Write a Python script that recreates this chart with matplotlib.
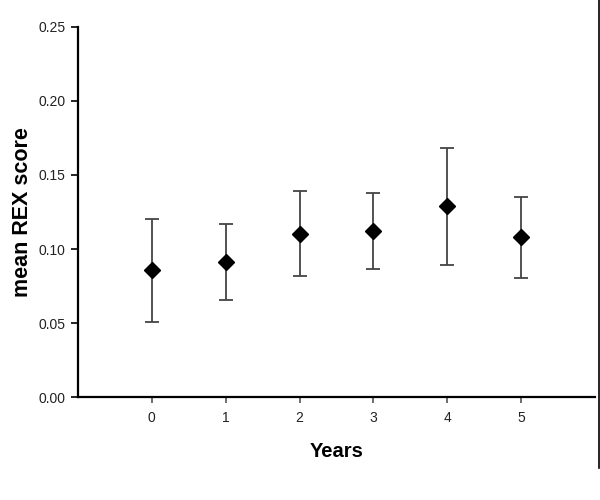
import matplotlib
matplotlib.use("Agg")
import matplotlib.pyplot as plt
from matplotlib.lines import Line2D

years = [0, 1, 2, 3, 4, 5]
mean_rex = [0.0858, 0.0914, 0.110, 0.1125, 0.1289, 0.1078]
upper = [0.1206, 0.117, 0.1395, 0.1379, 0.1685, 0.1352]
lower = [0.0510, 0.0654, 0.0815, 0.0867, 0.0894, 0.0802]
yticks = [0.00, 0.05, 0.10, 0.15, 0.20, 0.25]

plt.rcParams['font.family'] = ['Liberation Sans', 'DejaVu Sans']

fig = plt.figure(figsize=(6, 5), dpi=100)
ax = fig.add_axes([0.13, 0.2054, 0.8617, 0.7412])

yerr = [[m - l for m, l in zip(mean_rex, lower)], [u - m for m, u in zip(mean_rex, upper)]]
ax.errorbar(years, mean_rex, yerr=yerr, fmt='D', color='black', markersize=8,
            ecolor='#444444', elinewidth=1.3, capsize=5, capthick=1.3)

ax.set_xlim(-1, 6)
ax.set_ylim(0, 0.25)
ax.set_xticks(years)
ax.set_xticklabels([str(y) for y in years])
ax.set_yticks(yticks)
ax.set_yticklabels([f"{v:.2f}" for v in yticks])
for s in ['top', 'right']:
    ax.spines[s].set_visible(False)
for s in ['left', 'bottom']:
    ax.spines[s].set_linewidth(1.6)
ax.tick_params(axis='y', length=5, width=1.2, labelsize=10, colors='black', labelcolor='#222222', pad=4)
ax.tick_params(axis='x', length=4, width=1.2, labelsize=10, colors='#555555', labelcolor='#222222', pad=6)

ax.set_xlabel('Years', fontsize=14.5, fontweight='bold', labelpad=12)
ax.set_ylabel('mean REX score', fontsize=15.5, fontweight='bold', labelpad=4)

fig.add_artist(Line2D([0.998, 0.998], [1.0, 1 - 468/500], transform=fig.transFigure,
                      color='black', linewidth=1.2))

fig.savefig('out.png', dpi=100)
